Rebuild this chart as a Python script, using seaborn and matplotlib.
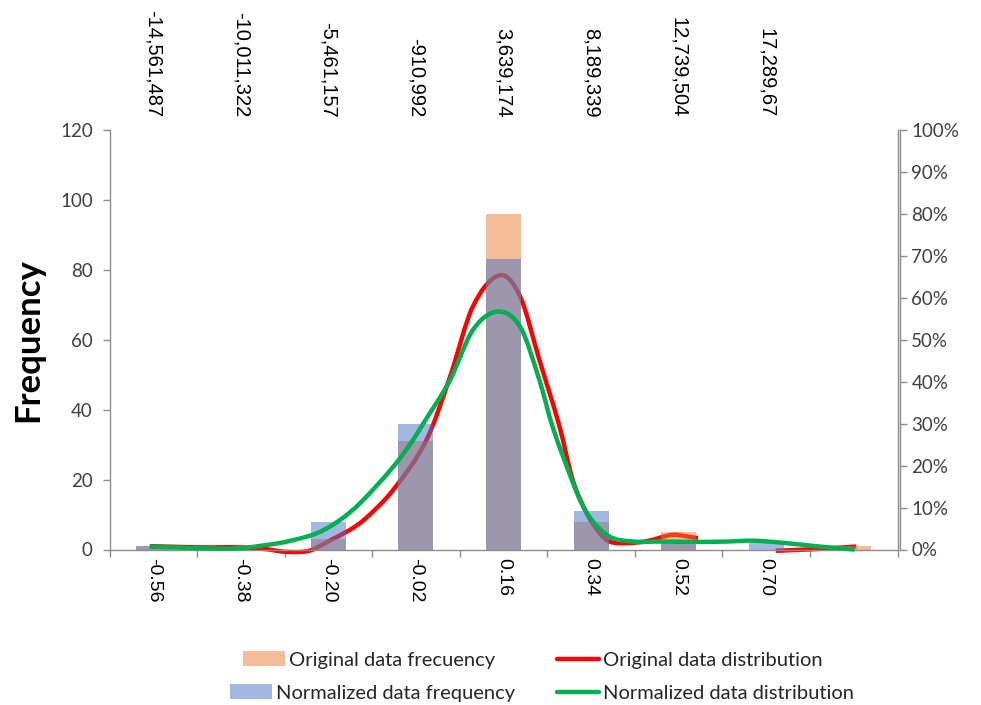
import numpy as np
import matplotlib
matplotlib.use("Agg")
import matplotlib.pyplot as plt
import seaborn as sns
from matplotlib.path import Path
from matplotlib.patches import PathPatch, Patch
from matplotlib.lines import Line2D
from matplotlib.transforms import Affine2D
from matplotlib.ticker import PercentFormatter, FixedLocator

# ---- data -------------------------------------------------------------
bin_labels = ["-0.56", "-0.38", "-0.20", "-0.02", "0.16", "0.34", "0.52", "0.70", ""]
top_labels = ["-14,561,487", "-10,011,322", "-5,461,157", "-910,992",
              "3,639,174", "8,189,339", "12,739,504", "17,289,67"]
orig_freq = [1, 0, 3, 31, 96, 8, 5, 0, 1]
norm_freq = [1, 0, 8, 36, 83, 11, 2, 2, 0]

# distribution curves: x in bin-index units, y in percent (right axis)
red_x1 = [-0.04, 0.53, 0.99, 1.28, 1.48, 1.67, 1.80, 1.90, 2.05, 2.24, 2.42,
          2.74, 3.12, 3.39, 3.65, 3.96, 4.19, 4.41, 4.64, 4.79, 4.95, 5.10,
          5.21, 5.41, 5.64, 5.93, 6.10, 6.22]
red_y1 = [0.8, 0.5, 0.5, 0.1, -0.5, -0.6, -0.2, 0.8, 2.5, 4.6, 7.3,
          14.2, 26.1, 41.2, 57.9, 65.4, 60.3, 45.2, 29.3, 16.6, 8.7, 3.9,
          1.9, 1.5, 2.0, 3.5, 3.1, 2.7]
red_x2 = [7.11, 7.57, 8.03]
red_y2 = [-0.3, 0.1, 0.7]

green_x = [-0.04, 0.53, 0.99, 1.30, 1.53, 1.87, 2.13, 2.36, 2.74, 2.96, 3.08,
           3.39, 3.65, 3.93, 4.19, 4.41, 4.56, 4.84, 4.98, 5.21, 5.48, 5.79,
           6.24, 6.55, 6.85, 7.19, 7.61, 8.01]
green_y = [0.7, 0.3, 0.3, 1.1, 1.9, 3.9, 7.0, 11.0, 19.7, 25.9, 29.9,
           40.4, 52.3, 56.7, 53.1, 40.4, 29.3, 13.5, 7.8, 3.1, 1.9, 1.9,
           1.8, 1.9, 2.1, 1.6, 0.7, 0.0]

ORANGE = "#ED7D31"
BLUE = "#4472C4"
RED = "#FF0000"
GREEN = "#00B050"
AXIS_GREY = "#8C8C8C"
TEXT = "#404040"


def smooth_path(xs, ys):
    """Cubic Hermite curve through the points, drawn as Bezier segments."""
    x = np.asarray(xs, float)
    y = np.asarray(ys, float)
    n = len(x)
    m = np.empty(n)
    m[0] = (y[1] - y[0]) / (x[1] - x[0])
    m[-1] = (y[-1] - y[-2]) / (x[-1] - x[-2])
    m[1:-1] = (y[2:] - y[:-2]) / (x[2:] - x[:-2])
    verts = [(x[0], y[0])]
    codes = [Path.MOVETO]
    for i in range(n - 1):
        h = x[i + 1] - x[i]
        verts += [(x[i] + h / 3, y[i] + m[i] * h / 3),
                  (x[i + 1] - h / 3, y[i + 1] - m[i + 1] * h / 3),
                  (x[i + 1], y[i + 1])]
        codes += [Path.CURVE4] * 3
    return Path(verts, codes)


# ---- figure -----------------------------------------------------------
sns.set_theme(style="white")
plt.rcParams["font.family"] = ["Lato", "DejaVu Sans"]

W, H = 981, 705
fig = plt.figure(figsize=(W / 100, H / 100), dpi=100)
left, right, top, bottom = 109.5, 897.5, 130.0, 549.5
ax = fig.add_axes([left / W, 1 - bottom / H, (right - left) / W, (bottom - top) / H])

# frequency bars (blue drawn over orange, both half transparent)
sns.barplot(x=bin_labels, y=orig_freq, order=bin_labels, color=ORANGE,
            alpha=0.5, saturation=1, width=0.4, linewidth=0,
            errorbar=None, ax=ax, zorder=2)
sns.barplot(x=bin_labels, y=norm_freq, order=bin_labels, color=BLUE,
            alpha=0.5, saturation=1, width=0.4, linewidth=0,
            errorbar=None, ax=ax, zorder=2)

# distribution curves on the percent scale (100 % == 120 on the left axis)
pct = Affine2D().scale(1, 120 / 100) + ax.transData
for xs, ys, col, z in [(red_x1, red_y1, RED, 1), (red_x2, red_y2, RED, 1),
                       (green_x, green_y, GREEN, 3)]:
    ax.add_patch(PathPatch(smooth_path(xs, ys), fill=False, edgecolor=col,
                           lw=3.2, transform=pct, zorder=z, clip_on=False,
                           capstyle="butt", joinstyle="round"))

ax.set_xlim(-0.5, 8.5)
ax.set_ylim(0, 120)
ax.set_yticks(np.arange(0, 121, 20))
ax.set_xlabel("")
ax.set_ylabel("Frequency", fontsize=25, fontweight="bold", color="black")
ax.yaxis.set_label_coords((44 - left) / (right - left), 0.5)

ax.spines["top"].set_visible(False)
for s in ["left", "bottom", "right"]:
    ax.spines[s].set_visible(True)
    ax.spines[s].set_color(AXIS_GREY)
    ax.spines[s].set_linewidth(1.0)

ax.set_xticks(range(len(bin_labels)))
ax.set_xticklabels(bin_labels, rotation=-90, fontfamily="Liberation Sans",
                   fontsize=14, color="black")
ax.xaxis.set_minor_locator(FixedLocator(np.arange(-0.5, 9.0, 1.0)))
ax.tick_params(axis="x", which="major", length=0, pad=6)
ax.tick_params(axis="x", which="minor", length=5, width=1, color=AXIS_GREY,
               direction="out", bottom=True)
ax.tick_params(axis="y", which="major", length=5, width=1, color=AXIS_GREY,
               direction="out", left=True, labelsize=13.5, labelcolor=TEXT, pad=7)

# category values of the original data along the top
secax = ax.secondary_xaxis("top")
secax.set_xticks(range(len(top_labels)))
secax.set_xticklabels(top_labels, rotation=-90, fontfamily="Liberation Sans",
                      fontsize=14.5, color="black")
secax.tick_params(length=0, pad=9)
secax.spines["top"].set_visible(False)

# percent axis on the right
ax2 = ax.twinx()
ax2.set_ylim(0, 100)
ax2.set_yticks(np.arange(0, 101, 10))
ax2.yaxis.set_major_formatter(PercentFormatter(xmax=100, decimals=0))
for s in ["left", "top", "bottom"]:
    ax2.spines[s].set_visible(False)
ax2.spines["right"].set_visible(True)
ax2.spines["right"].set_color(AXIS_GREY)
ax2.spines["right"].set_linewidth(1.0)
ax2.spines["right"].set_position(("outward", 2))
ax2.tick_params(axis="y", length=5, width=1, color=AXIS_GREY, direction="out",
                right=True, labelsize=13.5, labelcolor=TEXT, pad=3)
ax2.grid(False)
ax.grid(False)

# legend: four single entries laid out in two rows
entries = [
    (Patch(facecolor=ORANGE, alpha=0.5, linewidth=0), "Original data frecuency", 243, 660),
    (Line2D([], [], color=RED, lw=3.2), "Original data distribution", 557, 660),
    (Patch(facecolor=BLUE, alpha=0.5, linewidth=0), "Normalized data frequency", 230, 693),
    (Line2D([], [], color=GREEN, lw=3.2), "Normalized data distribution", 557, 693),
]
for handle, label, x, y in entries:
    fig.legend([handle], [label], loc="center left",
               bbox_to_anchor=(x / W, 1 - y / H), frameon=False,
               borderpad=0, borderaxespad=0, handlelength=2.1,
               handleheight=0.72, handletextpad=0.18, fontsize=14.5,
               labelcolor="#262626")

fig.savefig("out.png", dpi=100)
